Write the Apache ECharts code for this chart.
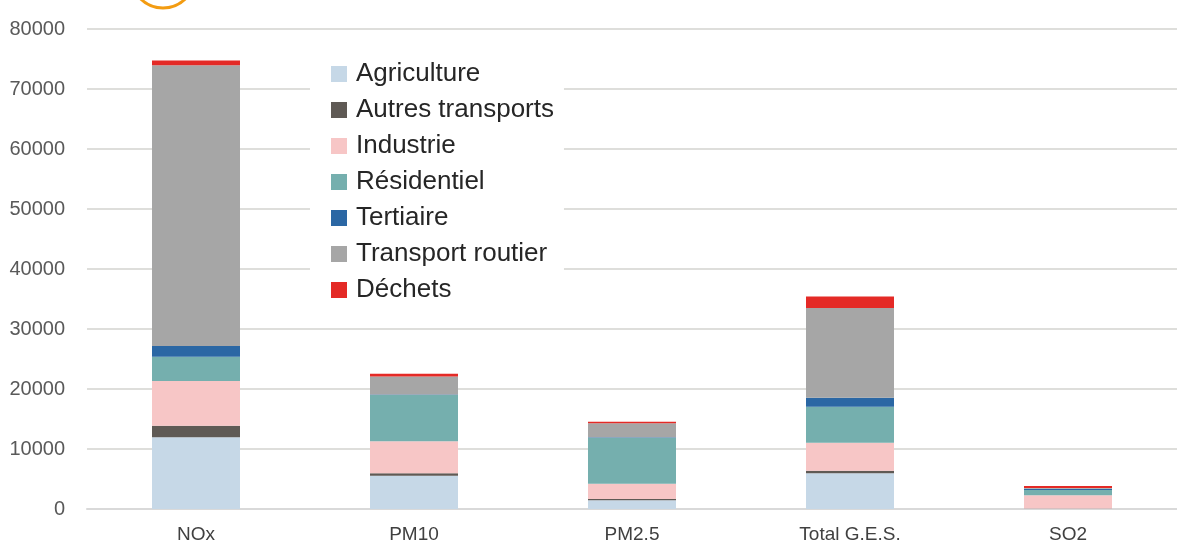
<!DOCTYPE html>
<html>
<head>
<meta charset="utf-8">
<script src="https://cdn.jsdelivr.net/npm/echarts@6/dist/echarts.min.js"></script>
<style>
  html, body { margin: 0; padding: 0; background: #fff; }
  #main { width: 1177px; height: 547px; }
</style>
</head>
<body>
<div id="main"></div>
<script>
// catégories et valeurs
var categories = ['NOx', 'PM10', 'PM2.5', 'Total G.E.S.', 'SO2'];
var agriculture = [11950, 5560, 1440, 5940, 50];
var autresTransports = [1930, 390, 220, 440, 30];
var industrie = [7450, 5330, 2560, 4670, 2200];
var residentiel = [4050, 7720, 7670, 6000, 890];
var tertiaire = [1780, 100, 60, 1500, 220];
var transportRoutier = [46780, 3000, 2330, 14940, 110];
var dechets = [830, 440, 280, 1940, 330];

var seriesDefs = [
    ['Agriculture', agriculture, '#C6D8E7'],
    ['Autres transports', autresTransports, '#5F5A55'],
    ['Industrie', industrie, '#F7C6C6'],
    ['Résidentiel', residentiel, '#75AFAE'],
    ['Tertiaire', tertiaire, '#2B67A4'],
    ['Transport routier', transportRoutier, '#A6A6A6'],
    ['Déchets', dechets, '#E42A26']
];

var myChart = echarts.init(document.getElementById('main'));
var option = {
    animation: false,
    textStyle: { fontFamily: 'Liberation Sans, Arial, sans-serif' },
    graphic: [
        {
            type: 'arc',
            shape: { cx: 163, cy: -24, r: 32, startAngle: Math.PI * 0.25, endAngle: Math.PI * 0.8 },
            style: { stroke: '#F39C12', lineWidth: 3, fill: null }
        }
    ],
    grid: {
        left: 87,
        right: -12,
        top: 29,
        bottom: 38
    },
    legend: {
        orient: 'vertical',
        left: 310,
        top: 53,
        padding: [8, 10, 8, 21],
        backgroundColor: '#ffffff',
        icon: 'rect',
        itemWidth: 16,
        itemHeight: 16,
        itemGap: 10,
        textStyle: {
            fontSize: 26,
            lineHeight: 26,
            color: '#262626',
            padding: [0, 0, 0, 4]
        },
        data: seriesDefs.map(function (d) { return d[0]; })
    },
    xAxis: {
        type: 'category',
        data: categories,
        axisTick: { show: false },
        axisLine: { lineStyle: { color: '#D9D9D9', width: 2 } },
        axisLabel: { fontSize: 19, color: '#404040', margin: 16 }
    },
    yAxis: {
        type: 'value',
        min: 0,
        max: 80000,
        interval: 10000,
        axisLine: { show: false },
        axisTick: { show: false },
        axisLabel: {
            fontSize: 20,
            color: '#595959',
            margin: 22,
            formatter: function (v) { return String(v); }
        },
        splitLine: { lineStyle: { color: '#DEDEDB', width: 2 } }
    },
    series: seriesDefs.map(function (d) {
        return {
            name: d[0],
            type: 'bar',
            stack: 'total',
            barWidth: 88,
            data: d[1],
            itemStyle: { color: d[2] }
        };
    })
};
myChart.setOption(option);
</script>
</body>
</html>
